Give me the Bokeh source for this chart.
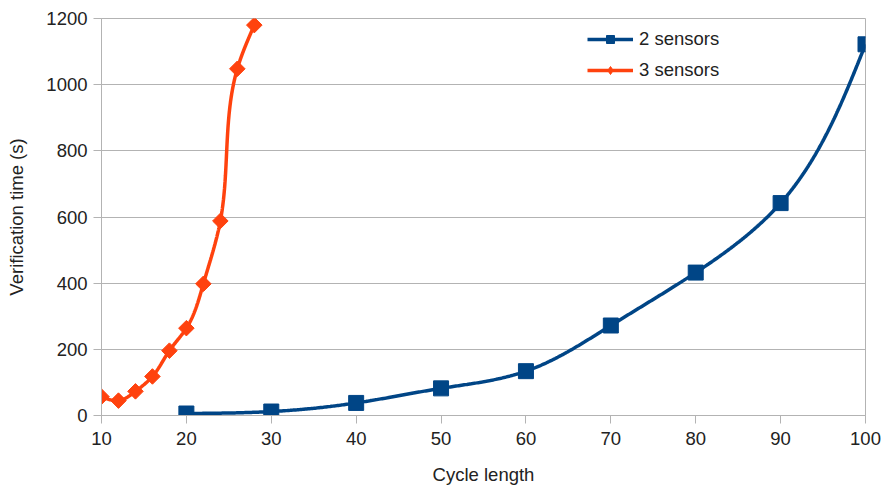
import numpy as np
from bokeh.plotting import figure
from bokeh.models import Legend, LegendItem, FixedTicker
from bokeh.embed import file_html
from bokeh.resources import INLINE

# Data
x_2 = [20, 30, 40, 50, 60, 70, 80, 90, 100]
y_2 = [6, 12, 38, 82, 134, 272, 432, 642, 1122]
x_3 = [10, 12, 14, 16, 18, 20, 22, 24, 26, 28]
y_3 = [57, 45, 73, 118, 196, 264, 398, 588, 1048, 1180]
x_ticks = [10, 20, 30, 40, 50, 60, 70, 80, 90, 100]
y_ticks = [0, 200, 400, 600, 800, 1000, 1200]

BLUE = "#004586"
ORANGE = "#ff420e"
GRID = "#b3b3b3"
FONT = "Liberation Sans"
FS = "18.5px"


def natural_spline(t, v, tt):
    t = np.asarray(t, float)
    v = np.asarray(v, float)
    n = len(t)
    h = np.diff(t)
    A = np.zeros((n, n))
    b = np.zeros(n)
    A[0, 0] = 1
    A[-1, -1] = 1
    for i in range(1, n - 1):
        A[i, i - 1] = h[i - 1]
        A[i, i] = 2 * (h[i - 1] + h[i])
        A[i, i + 1] = h[i]
        b[i] = 3 * ((v[i + 1] - v[i]) / h[i] - (v[i] - v[i - 1]) / h[i - 1])
    c = np.linalg.solve(A, b)
    out = np.empty_like(tt)
    for k, s in enumerate(tt):
        i = min(max(np.searchsorted(t, s) - 1, 0), n - 2)
        d = s - t[i]
        bb = (v[i + 1] - v[i]) / h[i] - h[i] * (2 * c[i] + c[i + 1]) / 3
        dd = (c[i + 1] - c[i]) / (3 * h[i])
        out[k] = v[i] + bb * d + c[i] * d ** 2 + dd * d ** 3
    return out


def smooth(xs, ys):
    xs = np.asarray(xs, float)
    ys = np.asarray(ys, float)
    px = xs * 764 / 90.0
    py = ys * 397 / 1200.0
    t = np.concatenate([[0], np.cumsum(np.hypot(np.diff(px), np.diff(py)))])
    tt = np.linspace(0, t[-1], 600)
    return natural_spline(t, xs, tt), natural_spline(t, ys, tt)


p = figure(width=886, height=497, output_backend="svg", toolbar_location=None,
           x_range=(10, 100), y_range=(0, 1200),
           min_border_left=101, min_border_right=21, min_border_top=18,
           min_border_bottom=82)
p.background_fill_color = "white"
p.border_fill_color = "white"
p.outline_line_color = GRID

p.xgrid.visible = False
p.ygrid.grid_line_color = GRID
p.ygrid.grid_line_width = 1

for ax in (p.xaxis[0], p.yaxis[0]):
    ax.axis_line_color = GRID
    ax.major_tick_line_color = GRID
    ax.major_tick_out = 8
    ax.major_tick_in = 0
    ax.minor_tick_line_color = None
    ax.major_label_text_font = FONT
    ax.major_label_text_font_size = FS
    ax.major_label_text_color = "#222222"
    ax.axis_label_text_font = FONT
    ax.axis_label_text_font_size = FS
    ax.axis_label_text_font_style = "normal"
    ax.axis_label_text_color = "#222222"

p.xaxis.ticker = FixedTicker(ticks=x_ticks)
p.yaxis.ticker = FixedTicker(ticks=y_ticks)
p.xaxis.axis_label = "Cycle length"
p.yaxis.axis_label = "Verification time (s)"
p.xaxis.major_label_standoff = 8
p.yaxis.major_label_standoff = 6
p.xaxis.axis_label_standoff = 16
p.yaxis.axis_label_standoff = 16

sx2, sy2 = smooth(x_2, y_2)
sx3, sy3 = smooth(x_3, y_3)

l2 = p.line(sx2, sy2, line_color=BLUE, line_width=3.5)
m2 = p.scatter(x_2, y_2, marker="square", size=15, fill_color=BLUE, line_color=BLUE)
l3 = p.line(sx3, sy3, line_color=ORANGE, line_width=3.5)
# diamond glyph (used for the legend), covered by the rotated squares
d3 = p.scatter(x_3, y_3, marker="diamond", size=12, fill_color=ORANGE, line_color=ORANGE)
m3 = p.scatter(x_3, y_3, marker="square", angle=np.pi / 4, size=11,
               fill_color=ORANGE, line_color=ORANGE)

legend = Legend(items=[LegendItem(label="2 sensors", renderers=[l2, m2]),
                       LegendItem(label="3 sensors", renderers=[l3, d3])],
                location=(486, 334), padding=0, margin=0, spacing=9,
                label_height=20, glyph_height=20, glyph_width=46,
                label_standoff=6, border_line_color=None,
                background_fill_alpha=0,
                label_text_font=FONT, label_text_font_size=FS,
                label_text_color="#222222")
p.add_layout(legend, "center")

open("out.html", "w").write(file_html(p, INLINE))
